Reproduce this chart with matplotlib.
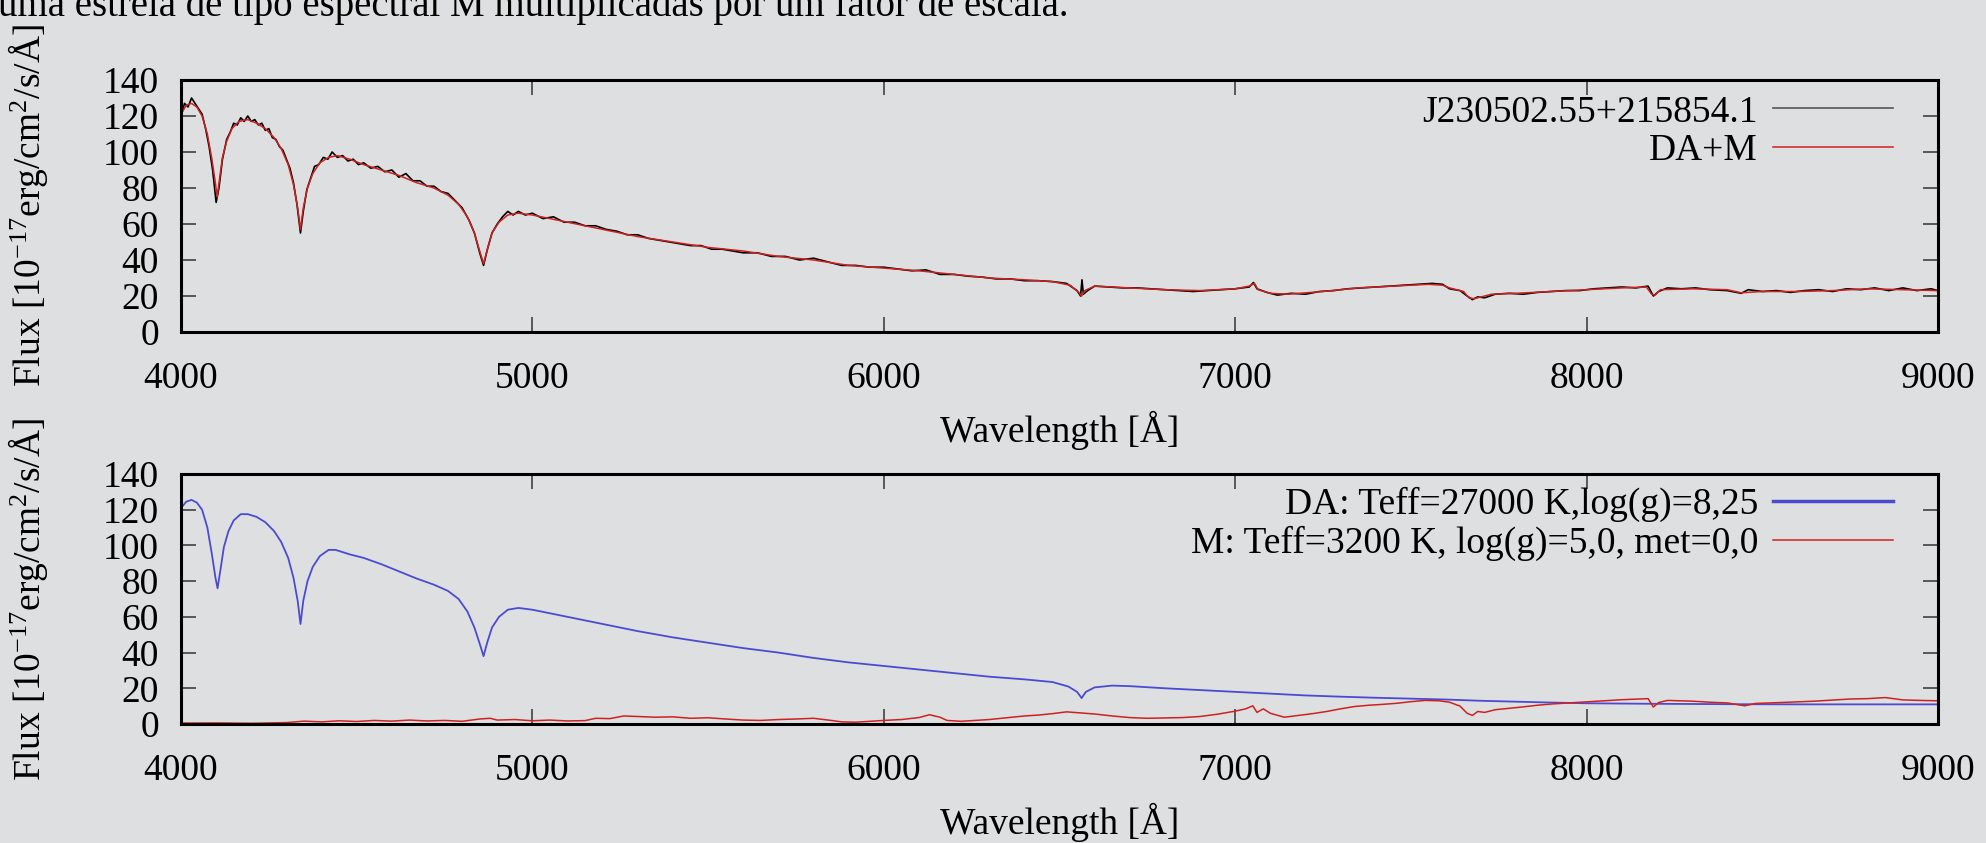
import numpy as np
import matplotlib
matplotlib.use("Agg")
import matplotlib.pyplot as plt

plt.rcParams['font.family'] = ['Liberation Serif', 'DejaVu Serif']
plt.rcParams['mathtext.fontset'] = 'custom'
plt.rcParams['mathtext.rm'] = 'Liberation Serif'
plt.rcParams['mathtext.it'] = 'Liberation Serif:italic'

obs_wave = [4000, 4010, 4020, 4030, 4040, 4050, 4060, 4070, 4080, 4090, 4100, 4108, 4118, 4130, 4140,
            4150, 4160, 4170, 4180, 4190, 4200, 4210, 4220, 4230, 4240, 4250, 4260, 4270, 4280, 4290,
            4300, 4310, 4320, 4330, 4340, 4348, 4358, 4370, 4380, 4392, 4405, 4418, 4430, 4445, 4460,
            4475, 4490, 4505, 4520, 4540, 4560, 4580, 4600, 4620, 4640, 4660, 4680, 4700, 4720, 4740,
            4760, 4780, 4800, 4820, 4835, 4850, 4861, 4872, 4885, 4900, 4915, 4930, 4945, 4960, 4980,
            5000, 5030, 5060, 5090, 5120, 5150, 5180, 5210, 5240, 5270, 5300, 5330, 5360, 5390, 5420,
            5450, 5480, 5510, 5540, 5570, 5600, 5640, 5680, 5720, 5760, 5800, 5840, 5880, 5920, 5960,
            6000, 6040, 6080, 6120, 6160, 6200, 6240, 6280, 6320, 6360, 6400, 6440, 6480, 6520, 6550,
            6560, 6564, 6568, 6580, 6600, 6640, 6680, 6720, 6760, 6800, 6840, 6880, 6920, 6960, 7000,
            7040, 7052, 7062, 7090, 7120, 7160, 7200, 7240, 7280, 7320, 7360, 7400, 7440, 7480, 7520,
            7560, 7590, 7610, 7640, 7660, 7675, 7690, 7710, 7740, 7780, 7820, 7860, 7900, 7940, 7980,
            8020, 8060, 8100, 8140, 8175, 8190, 8205, 8230, 8270, 8310, 8350, 8400, 8440, 8460, 8500,
            8540, 8580, 8620, 8660, 8700, 8740, 8780, 8820, 8860, 8900, 8940, 8980, 9000]
obs_flux = [120, 127, 125, 130, 127, 124, 121, 113, 103, 90, 72, 80, 96, 107, 111,
            116, 115, 119, 117, 120, 117, 118, 115, 116, 112, 113, 108, 107, 103, 101,
            96, 91, 83, 71, 55, 67, 79, 86, 92, 93, 97, 96, 100, 97, 98,
            95, 96, 93, 94, 91, 92, 89, 90, 86, 88, 84, 84, 81, 81, 78,
            77, 73, 69, 62, 55, 44, 37, 46, 55, 60, 64, 67, 65, 67, 65,
            66, 63, 64, 61, 61, 59, 59, 57, 56, 54, 54, 52, 51, 50, 49,
            48, 48, 46, 46, 45, 44, 44, 42, 42, 40, 41, 39, 37, 37, 36,
            36, 35, 34, 34.5, 32, 32, 31, 30.5, 29.5, 29.5, 28.5, 28.5, 28, 27, 23,
            20, 29, 21, 23, 25.5, 25, 24.5, 24.5, 24, 23.5, 23, 22.5, 23, 23.5, 24,
            25, 27.5, 24, 22, 20.5, 21.5, 21, 22.5, 23, 24, 24.5, 25, 25.5, 26, 26.5,
            27, 26.5, 24, 23, 20, 18, 19.5, 19, 21, 21.5, 21, 22, 22.5, 23, 23,
            24, 24.5, 25, 24.5, 25.5, 20, 22.5, 24.5, 24, 24.5, 23.5, 23, 21.5, 23.5, 22.5,
            23, 22, 23, 23.5, 22.5, 24, 23.5, 24.5, 23, 24.5, 23, 24, 23]

# DA+M composite model
model_wave = [4000, 4015, 4030, 4045, 4060, 4075, 4088, 4097, 4103, 4109, 4118, 4130, 4145, 4165, 4190,
              4215, 4240, 4265, 4285, 4305, 4320, 4332, 4340, 4348, 4360, 4375, 4395, 4420, 4445, 4480,
              4520, 4570, 4620, 4670, 4720, 4760, 4790, 4815, 4835, 4850, 4861, 4872, 4885, 4905, 4930,
              4960, 5000, 5100, 5200, 5300, 5400, 5500, 5600, 5700, 5800, 5900, 6000, 6100, 6200, 6300,
              6400, 6480, 6530, 6555, 6563, 6572, 6600, 6700, 6800, 6900, 7000, 7040, 7055, 7065, 7100,
              7150, 7250, 7350, 7450, 7550, 7590, 7610, 7650, 7665, 7680, 7700, 7730, 7800, 7900, 8000,
              8100, 8170, 8185, 8195, 8210, 8300, 8400, 8440, 8500, 8600, 8700, 8800, 8900, 9000]
model_flux = [121, 126, 127, 125, 120, 110, 96, 84, 75, 84, 97, 106, 113, 117, 118,
              116, 113, 108, 102, 93, 82, 69, 57, 69, 80, 88, 94, 97, 98, 96,
              93, 90, 87, 83, 80, 76, 71, 64, 55, 45, 38, 46, 55, 61, 65,
              66, 65, 61, 57, 53, 50, 47, 45, 42, 40, 37, 35.5, 34, 32, 30,
              29, 28, 26, 22, 20, 23, 25.5, 24.5, 23.5, 23, 24, 25.5, 27, 23.5, 21.5,
              21, 22.5, 24.5, 25.5, 26.5, 26, 24.5, 22.5, 19, 18.5, 19.5, 21, 21.5, 22.5, 23.5,
              24.5, 25, 21, 20.5, 23.5, 24, 23.5, 21.8, 22.5, 22.5, 23, 24, 23.5, 23]

# DA white dwarf model
da_wave = [4000, 4015, 4030, 4045, 4060, 4075, 4088, 4098, 4104, 4112, 4122, 4135, 4150, 4170, 4190,
           4215, 4240, 4265, 4285, 4305, 4320, 4332, 4340, 4348, 4360, 4375, 4395, 4420, 4440, 4480,
           4520, 4570, 4620, 4670, 4720, 4760, 4790, 4815, 4835, 4850, 4861, 4872, 4885, 4905, 4930,
           4960, 5000, 5100, 5200, 5300, 5400, 5500, 5600, 5700, 5800, 5900, 6000, 6100, 6200, 6300,
           6400, 6480, 6525, 6550, 6563, 6575, 6600, 6650, 6700, 6800, 6900, 7000, 7100, 7200, 7300,
           7400, 7500, 7600, 7700, 7800, 7900, 8000, 8200, 8400, 8600, 8800, 9000]
da_flux = [121, 124.5, 125.5, 124, 120, 110, 95, 82, 76, 86, 99, 108, 114, 117.5, 117.5,
           116, 113, 108, 102, 93, 82, 69, 56, 69, 80, 88, 94, 97.5, 97.5, 95,
           93, 89.5, 85.5, 81.5, 78, 74.5, 70, 63, 54, 45, 38, 46, 54, 60, 64,
           65, 64, 60, 56, 52, 48.5, 45.5, 42.5, 40, 37, 34.5, 32.5, 30.5, 28.5, 26.5,
           25, 23.5, 21, 18, 14.5, 18, 20.5, 21.5, 21.2, 20, 19, 18, 17, 16, 15.3,
           14.7, 14.2, 13.7, 13, 12.5, 12, 11.6, 11.3, 11.1, 11, 11, 11]

# M dwarf model
m_wave = [4000, 4100, 4200, 4300, 4350, 4400, 4450, 4500, 4550, 4600, 4650, 4700, 4750, 4800, 4850,
          4880, 4900, 4950, 5000, 5050, 5100, 5150, 5180, 5220, 5260, 5300, 5350, 5400, 5450, 5500,
          5550, 5600, 5650, 5700, 5750, 5800, 5850, 5880, 5920, 5960, 6000, 6050, 6100, 6130, 6160,
          6180, 6220, 6260, 6300, 6350, 6400, 6440, 6480, 6520, 6560, 6600, 6650, 6700, 6750, 6800,
          6850, 6900, 6950, 7000, 7030, 7050, 7062, 7080, 7100, 7140, 7180, 7220, 7260, 7300, 7340,
          7380, 7420, 7460, 7500, 7540, 7580, 7610, 7640, 7660, 7675, 7690, 7710, 7740, 7780, 7820,
          7860, 7900, 7950, 8000, 8050, 8100, 8150, 8175, 8190, 8205, 8230, 8300, 8350, 8400, 8450,
          8480, 8550, 8600, 8650, 8700, 8750, 8800, 8850, 8900, 8950, 9000]
m_flux = [0.5, 0.6, 0.4, 0.8, 1.6, 1.2, 1.8, 1.4, 2.0, 1.6, 2.2, 1.7, 2.0, 1.5, 2.8,
          3.2, 2.2, 2.5, 1.8, 2.2, 1.7, 1.9, 3.2, 3.0, 4.5, 4.2, 3.8, 4.0, 3.2, 3.5,
          2.8, 2.2, 2.0, 2.5, 2.8, 3.2, 2.0, 1.2, 1.0, 1.5, 2.0, 2.5, 3.6, 5.2, 3.8,
          2.0, 1.5, 2.0, 2.5, 3.5, 4.5, 5.0, 5.8, 6.8, 6.2, 5.6, 4.5, 3.6, 3.2, 3.4,
          3.6, 4.2, 5.5, 7.2, 8.5, 10.2, 6.5, 8.5, 6.0, 3.8, 4.8, 5.8, 7.0, 8.5, 9.8,
          10.5, 11.0, 11.6, 12.5, 13.2, 13.0, 12.2, 10.0, 6.0, 4.8, 7.0, 6.5, 8.0, 8.8, 9.6,
          10.5, 11.2, 11.8, 12.4, 13.0, 13.6, 14.0, 14.2, 9.5, 12.0, 13.2, 12.8, 12.2, 11.8, 10.2,
          11.5, 12.0, 12.4, 12.8, 13.4, 14.0, 14.2, 14.8, 13.5, 13.2, 13.0]

x_ticks = [4000, 5000, 6000, 7000, 8000, 9000]
y_ticks = [0, 20, 40, 60, 80, 100, 120, 140]

bg = '#dedfe0'
red = '#cc2222'
blue = '#4b4bd2'
fs = 27
W, H = 1986, 843

fig = plt.figure(figsize=(W / 100, H / 100), dpi=100, facecolor=bg)

def make_axes(top_px, bot_px):
    ax = fig.add_axes([181 / W, 1 - bot_px / H, (1938 - 181) / W, (bot_px - top_px) / H])
    ax.set_facecolor('none')
    ax.set_xlim(4000, 9000)
    ax.set_ylim(0, 140)
    ax.set_xticks(x_ticks)
    ax.set_yticks(y_ticks)
    ax.tick_params(direction='in', length=11, width=1.1, color='#333333',
                   top=True, right=True, labelsize=fs)
    ax.tick_params(axis='x', pad=21)
    ax.tick_params(axis='y', pad=16)
    for s in ax.spines.values():
        s.set_linewidth(2.2)
    ax.set_xlabel('Wavelength [Å]', fontsize=fs, labelpad=11)
    return ax

ax1 = make_axes(80, 332)
ax1.plot(obs_wave, obs_flux, color='black', lw=1.2, label='J230502.55+215854.1')
ax1.plot(model_wave, model_flux, color=red, lw=1.1, label='DA+M')
lg1 = ax1.legend(loc='upper right', bbox_to_anchor=(0.9744, 0.94), frameon=False,
                 markerfirst=False, fontsize=fs, handlelength=3.2, handletextpad=0.4,
                 borderpad=0, borderaxespad=0, labelspacing=0.1)
lg1.get_lines()[0].set_color('#555555')

ax2 = make_axes(474, 724)
ax2.plot(da_wave, da_flux, color=blue, lw=1.3, label='DA: Teff=27000 K,log(g)=8,25')
ax2.plot(m_wave, m_flux, color=red, lw=1.1, label='M: Teff=3200 K, log(g)=5,0, met=0,0')
lg2 = ax2.legend(loc='upper right', bbox_to_anchor=(0.9744, 0.95), frameon=False,
                 markerfirst=False, fontsize=fs, handlelength=3.2, handletextpad=0.4,
                 borderpad=0, borderaxespad=0, labelspacing=0.1)
lg2.get_lines()[0].set_linewidth(2.5)

ylab = r'Flux [10$^{-17}$erg/cm$^{2}$/s/Å]'
fig.text(28 / W, 1 - 206 / H, ylab, rotation=90, ha='center', va='center', fontsize=fs)
fig.text(28 / W, 1 - 600 / H, ylab, rotation=90, ha='center', va='center', fontsize=fs)

# slide text above the chart, cut by the top edge as in the screenshot
fig.text(-0.001, 1 - 16 / H, 'uma estrela de tipo espectral M multiplicadas por um fator de escala.',
         fontsize=28, va='baseline', ha='left')

fig.savefig('out.png', dpi=100, facecolor=bg)
